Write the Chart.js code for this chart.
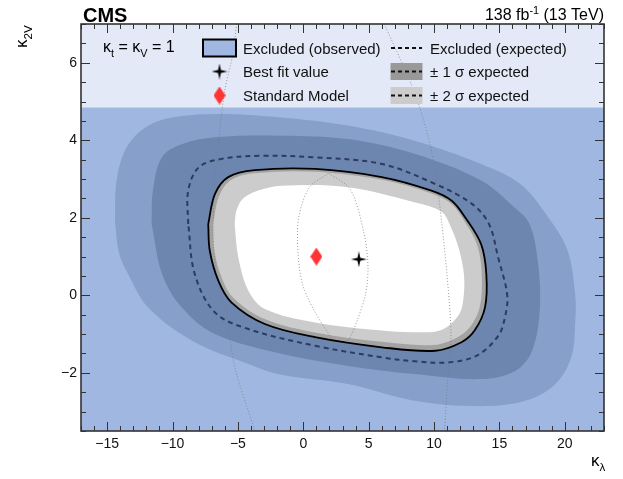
<!DOCTYPE html>
<html>
<head>
<meta charset="utf-8">
<script src="https://cdn.jsdelivr.net/npm/chart.js"></script>
<style>
  html, body { margin: 0; padding: 0; background: #fff; }
</style>
</head>
<body>
<canvas id="myChart" width="623" height="479"></canvas>
<script>
// axis ranges and the bottom edge of the legend band
const xLimits = [-17, 23];
const yLimits = [-3.5, 7];
const legendFloor = 4.85;

// +-2 sigma expected, outer edge
const sig2OutX = [-14.4, -14.3, -13.65, -12.4, -10.6, -6.8, -1.7, 3.4, 8.5, 13.6, 16.6, 18.7, 20.2, 20.8, 20.8, 20.5, 19.25, 17.0, 13.6, 8.5, 3.4, -1.7, -4.2, -8.5, -11.9, -13.4, -14.1];
const sig2OutY = [1.9, 2.9, 3.73, 4.25, 4.55, 4.68, 4.59, 4.38, 3.99, 3.39, 2.87, 2.03, 1.17, 0.0, -0.7, -1.6, -2.3, -2.72, -2.86, -2.72, -2.29, -2.05, -1.77, -1.17, -0.3, 0.55, 1.1];

// +-1 sigma expected, outer edge
const sig1OutX = [-11.6, -11.5, -10.8, -9.3, -6.76, -1.66, 3.44, 8.5, 13.6, 16.2, 17.3, 17.9, 18.1, 17.5, 16.2, 13.6, 8.5, 3.44, -1.66, -6.76, -9.3, -10.8];
const sig1OutY = [1.84, 2.7, 3.57, 3.9, 4.08, 4.12, 4.03, 3.65, 2.96, 2.25, 1.84, 0.98, -0.3, -1.43, -1.95, -2.16, -2.03, -1.82, -1.51, -1.0, -0.31, 0.55];

// observed contour
const obsX = [-7.27, -6.76, -5.74, -3.7, 0.9, 6.0, 9.8, 11.35, 12.4, 13.6, 14.0, 13.9, 13.1, 12.1, 10.1, 6.0, 0.9, -2.94, -5.5, -6.5, -7.15];
const obsY = [1.84, 2.61, 3.05, 3.23, 3.26, 3.05, 2.7, 2.44, 2.0, 1.32, 0.55, -0.31, -0.91, -1.21, -1.43, -1.34, -1.08, -0.74, -0.18, 0.38, 1.15];

// +-1 sigma expected, inner edge
const sig1InX = [-6.9, -6.45, -5.55, -3.7, 0.9, 6.0, 9.8, 11.3, 12.25, 13.3, 13.65, 13.5, 12.75, 11.8, 10.0, 6.0, 0.9, -2.9, -5.3, -6.2, -6.8];
const sig1InY = [1.84, 2.55, 2.97, 3.15, 3.19, 2.98, 2.63, 2.37, 1.95, 1.3, 0.55, -0.3, -0.82, -1.08, -1.28, -1.2, -0.96, -0.62, -0.08, 0.42, 1.15];

// +-2 sigma expected, inner edge
const sig2InX = [-5.25, -5.1, -4.6, -3.5, -1.66, 3.44, 8.5, 10.6, 11.3, 11.9, 12.3, 12.2, 11.8, 10.5, 8.5, 6.0, 0.9, -2.94, -4.2, -4.97];
const sig2InY = [1.84, 2.2, 2.5, 2.7, 2.83, 2.79, 2.4, 2.15, 1.75, 1.2, 0.5, -0.2, -0.55, -0.9, -0.95, -0.91, -0.7, -0.35, 0.12, 0.98];

// expected contour
const expX = [-8.8, -8.8, -8.0, -6.25, -3.2, 0.9, 6.0, 10.1, 12.9, 14.2, 14.9, 15.6, 15.4, 14.9, 13.3, 11.1, 8.5, 6.0, 0.9, -4.2, -6.76, -8.3];
const expY = [1.84, 2.7, 3.3, 3.52, 3.6, 3.56, 3.39, 2.87, 2.36, 1.84, 0.98, 0.0, -0.6, -1.05, -1.55, -1.73, -1.7, -1.6, -1.3, -0.87, -0.44, 0.55];

// dotted iso-lines
const dotLX = [-5.1, -5.4, -6.0, -6.4, -6.8, -6.9, -6.6, -6.0, -5.2, -3.7];
const dotLY = [7.0, 6.2, 5.3, 4.2, 2.8, 1.5, 0.5, -0.3, -1.9, -3.5];
const dotRX = [6.2, 8.46, 9.5, 10.1, 10.6, 11.0, 11.3, 11.1, 10.8];
const dotRY = [7.0, 5.28, 4.16, 3.2, 1.84, 0.5, -1.0, -1.9, -3.5];
const dotCX = [1.96, 3.62, 4.64, 4.95, 4.77, 4.13, 3.37, 2.7, 2.09, 0.81, -0.08, -0.41, -0.34, 0.5];
const dotCY = [3.15, 2.72, 1.6, 0.74, 0.05, -0.64, -1.2, -1.32, -1.07, -0.38, 0.31, 1.17, 2.03, 2.8];

// markers
const smX = [1.0], smY = [1.0];
const bestX = [4.25], bestY = [0.93];

const FONT = "'Liberation Sans', Arial, Helvetica, sans-serif";
Chart.defaults.font.family = FONT;
Chart.defaults.color = '#000';

function toPoints(xs, ys, closed) {
  const p = xs.map((x, i) => ({x: x, y: ys[i]}));
  if (closed) p.push(p[0]);
  return p;
}

function area(xs, ys, color, order) {
  return {
    data: toPoints(xs, ys, true), showLine: true, fill: 'shape',
    backgroundColor: color, borderWidth: 0, pointRadius: 0, tension: 0.35, order: order
  };
}

function dotted(xs, ys, closed, order) {
  return {
    data: toPoints(xs, ys, closed), showLine: true, fill: false,
    borderColor: 'rgba(120,120,130,0.75)', borderWidth: 1, borderDash: [1, 2],
    pointRadius: 0, tension: 0.3, order: order
  };
}

// marker images
function makeDiamond() {
  const c = document.createElement('canvas');
  c.width = 12; c.height = 18;
  const g = c.getContext('2d');
  g.fillStyle = '#ff3333';
  g.beginPath();
  g.moveTo(6, 0); g.lineTo(12, 9); g.lineTo(6, 18); g.lineTo(0, 9);
  g.closePath(); g.fill();
  return c;
}
function makeStar() {
  const c = document.createElement('canvas');
  c.width = 16; c.height = 16;
  const g = c.getContext('2d');
  g.fillStyle = '#000';
  g.beginPath();
  g.moveTo(8, 0); g.lineTo(9.4, 6.6); g.lineTo(16, 8); g.lineTo(9.4, 9.4);
  g.lineTo(8, 16); g.lineTo(6.6, 9.4); g.lineTo(0, 8); g.lineTo(6.6, 6.6);
  g.closePath(); g.fill();
  return c;
}
const diamondImg = makeDiamond();
const starImg = makeStar();

// text with sub/superscripts
function richText(ctx, parts, x, y, size) {
  let cx = x;
  parts.forEach(p => {
    const s = p.sub || p.sup ? size * 0.68 : size;
    ctx.font = (p.bold ? 'bold ' : '') + s + 'px ' + FONT;
    const dy = p.sub ? size * 0.3 : (p.sup ? -size * 0.38 : 0);
    ctx.fillText(p.t, cx, y + dy);
    cx += ctx.measureText(p.t).width;
  });
  return cx - x;
}
function richWidth(ctx, parts, size) {
  let w = 0;
  parts.forEach(p => {
    const s = p.sub || p.sup ? size * 0.68 : size;
    ctx.font = s + 'px ' + FONT;
    w += ctx.measureText(p.t).width;
  });
  return w;
}

// tick values: the scale's own ticks, or stepping through its range
function tickValues(scale, step) {
  if (scale.ticks && scale.ticks.length) return scale.ticks.map(t => t.value);
  const out = [];
  for (let v = scale.min; v <= scale.max + 1e-9; v += step) out.push(v);
  return out;
}

const frameTicks = {
  id: 'frameTicks',
  afterDraw(chart) {
    const {ctx, chartArea: a} = chart;
    const x = chart.scales.x, y = chart.scales.y;
    ctx.save();
    ctx.setLineDash([]);
    ctx.globalAlpha = 1;
    ctx.strokeStyle = '#333';
    ctx.lineWidth = 1;
    const xs = tickValues(x, 1), ys = tickValues(y, 0.5);
    xs.forEach(v => {
      const px = Math.round(x.getPixelForValue(v)) + 0.5;
      const len = Math.abs(v % 5) < 1e-6 ? 9 : 5;
      ctx.beginPath();
      ctx.moveTo(px, a.bottom); ctx.lineTo(px, a.bottom - len);
      ctx.moveTo(px, a.top); ctx.lineTo(px, a.top + len);
      ctx.stroke();
    });
    ys.forEach(v => {
      const py = Math.round(y.getPixelForValue(v)) + 0.5;
      const len = Math.abs(v % 2) < 1e-6 ? 9 : 5;
      ctx.beginPath();
      ctx.moveTo(a.left, py); ctx.lineTo(a.left + len, py);
      ctx.moveTo(a.right, py); ctx.lineTo(a.right - len, py);
      ctx.stroke();
    });
    ctx.lineWidth = 1.6;
    ctx.strokeRect(a.left, a.top, a.width, a.height);
    ctx.restore();
  }
};

const labelsPlugin = {
  id: 'labelsPlugin',
  afterDraw(chart) {
    const {ctx, chartArea: a} = chart;
    ctx.save();
    ctx.fillStyle = '#000';
    ctx.textBaseline = 'alphabetic';
    ctx.textAlign = 'left';

    // header
    richText(ctx, [{t: 'CMS', bold: true}], a.left + 2, a.top - 2, 20);
    const lumi = [{t: '138 fb'}, {t: '-1', sup: true}, {t: ' (13 TeV)'}];
    richText(ctx, lumi, a.right - richWidth(ctx, lumi, 16), a.top - 4, 16);

    // axis titles
    richText(ctx, [{t: 'κ'}, {t: 'λ', sub: true}], a.right - 13, a.bottom + 35, 17);
    ctx.save();
    ctx.translate(27, a.top + 24);
    ctx.rotate(-Math.PI / 2);
    richText(ctx, [{t: 'κ'}, {t: '2V', sub: true}], 0, 0, 17);
    ctx.restore();

    // legend
    const fs = 15;
    const rows = [a.top + 24, a.top + 47.5, a.top + 71.5];
    const c1 = a.left + 162, c2 = a.left + 349;
    richText(ctx, [{t: 'κ'}, {t: 't', sub: true}, {t: ' = κ'}, {t: 'V', sub: true}, {t: ' = 1'}], a.left + 22, rows[0] + 4, 16);

    ctx.fillStyle = '#a0b8e1';
    ctx.fillRect(a.left + 122, rows[0] - 8.5, 33, 17);
    ctx.strokeStyle = '#000';
    ctx.lineWidth = 2;
    ctx.strokeRect(a.left + 122, rows[0] - 8.5, 33, 17);
    ctx.drawImage(starImg, a.left + 138.5 - 8, rows[1] - 8);
    ctx.drawImage(diamondImg, a.left + 138.5 - 6, rows[2] - 9);

    ctx.fillStyle = '#999999';
    ctx.fillRect(a.left + 309.5, rows[1] - 8.5, 32, 17);
    ctx.fillStyle = '#cccccc';
    ctx.fillRect(a.left + 309.5, rows[2] - 8.5, 32, 17);
    ctx.strokeStyle = '#111';
    ctx.lineWidth = 2;
    ctx.setLineDash([4, 3]);
    rows.forEach(r => {
      ctx.beginPath();
      ctx.moveTo(a.left + 310, r); ctx.lineTo(a.left + 341, r);
      ctx.stroke();
    });
    ctx.setLineDash([]);

    ctx.fillStyle = '#111';
    richText(ctx, [{t: 'Excluded (observed)'}], c1, rows[0] + 5.5, fs);
    richText(ctx, [{t: 'Best fit value'}], c1, rows[1] + 5.5, fs);
    richText(ctx, [{t: 'Standard Model'}], c1, rows[2] + 5.5, fs);
    richText(ctx, [{t: 'Excluded (expected)'}], c2, rows[0] + 5.5, fs);
    richText(ctx, [{t: '± 1 σ expected'}], c2, rows[1] + 5.5, fs);
    richText(ctx, [{t: '± 2 σ expected'}], c2, rows[2] + 5.5, fs);
    ctx.restore();
  }
};

const band = [{x: xLimits[0], y: legendFloor}, {x: xLimits[1], y: legendFloor}];

const ctx = document.getElementById('myChart');
const chartInstance = new Chart(ctx, {
  type: 'scatter',
  data: {
    datasets: [
      {data: band, showLine: true, fill: 'start', backgroundColor: '#a0b8e1', borderWidth: 0, pointRadius: 0, order: 30},
      {data: band, showLine: true, fill: 'end', backgroundColor: '#e3e9f6', borderWidth: 0, pointRadius: 0, order: 29},
      area(sig2OutX, sig2OutY, '#879fcb', 20),
      area(sig1OutX, sig1OutY, '#6d86b0', 19),
      area(obsX, obsY, '#a3a3a3', 18),
      area(sig1InX, sig1InY, '#cccccc', 17),
      area(sig2InX, sig2InY, '#ffffff', 16),
      dotted(dotLX, dotLY, false, 12),
      dotted(dotRX, dotRY, false, 11),
      dotted(dotCX, dotCY, true, 10),
      {data: toPoints(expX, expY, true), showLine: true, fill: false, borderColor: '#2b3c5e', borderWidth: 2, borderDash: [5, 4], pointRadius: 0, tension: 0.35, order: 5},
      {data: toPoints(obsX, obsY, true), showLine: true, fill: false, borderColor: '#000', borderWidth: 1.8, pointRadius: 0, tension: 0.35, order: 4},
      {data: toPoints(smX, smY, false), pointStyle: diamondImg, pointRadius: 8, order: 1},
      {data: toPoints(bestX, bestY, false), pointStyle: starImg, pointRadius: 8, order: 0}
    ]
  },
  options: {
    responsive: false,
    animation: false,
    layout: {padding: {left: 0, right: 19, top: 24, bottom: 0}},
    plugins: {legend: {display: false}, tooltip: {enabled: false}},
    scales: {
      x: {
        type: 'linear', min: xLimits[0], max: xLimits[1],
        grid: {display: false, drawTicks: false}, border: {display: false},
        afterFit: s => { s.height = 48; },
        ticks: {
          stepSize: 1, autoSkip: false, maxRotation: 0, minRotation: 0, padding: 5,
          font: {size: 14}, color: '#111',
          callback: v => v % 5 === 0 ? String(v).replace('-', '\u2212') : ''
        }
      },
      y: {
        type: 'linear', min: yLimits[0], max: yLimits[1],
        grid: {display: false, drawTicks: false}, border: {display: false},
        afterFit: s => { s.width = 81; },
        ticks: {
          stepSize: 0.5, autoSkip: false, padding: 4,
          font: {size: 14}, color: '#111',
          callback: v => v % 2 === 0 ? String(v).replace('-', '\u2212') : ''
        }
      }
    }
  },
  plugins: [frameTicks, labelsPlugin]
});
</script>
</body>
</html>
